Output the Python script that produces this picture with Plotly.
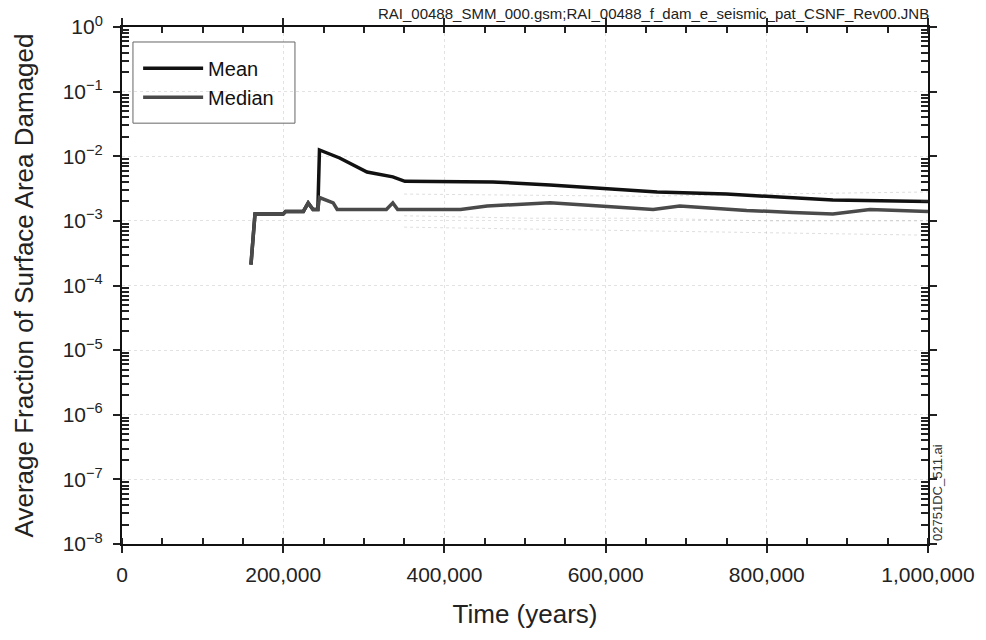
import plotly.graph_objects as go

# Mean curve (time in years, fraction damaged)
mean_t = [160000, 165000, 200000, 203000, 225000, 231000, 237000, 243000, 245000,
          270000, 304000, 336000, 351000, 460000, 531000, 600000, 664000, 750000,
          820000, 882000, 1000000]
mean_v = [2.1e-4, 1.28e-3, 1.28e-3, 1.4e-3, 1.4e-3, 1.9e-3, 1.5e-3, 1.5e-3, 1.25e-2,
          9.4e-3, 5.7e-3, 4.8e-3, 4.1e-3, 4.0e-3, 3.6e-3, 3.2e-3, 2.8e-3, 2.6e-3,
          2.35e-3, 2.1e-3, 2.0e-3]

# Median curve
med_t = [160000, 165000, 200000, 203000, 225000, 231000, 237000, 243000, 245000,
         262000, 267000, 328000, 336000, 342000, 420000, 453000, 531000, 602000,
         659000, 692000, 775000, 832000, 882000, 928000, 1000000]
med_v = [2.1e-4, 1.28e-3, 1.28e-3, 1.4e-3, 1.4e-3, 1.9e-3, 1.5e-3, 1.5e-3, 2.3e-3,
         1.9e-3, 1.5e-3, 1.5e-3, 1.9e-3, 1.5e-3, 1.5e-3, 1.7e-3, 1.9e-3, 1.65e-3,
         1.5e-3, 1.7e-3, 1.45e-3, 1.35e-3, 1.28e-3, 1.5e-3, 1.4e-3]

# Faint individual realizations (background band)
real_t = [350000, 500000, 650000, 800000, 1000000]
real_a = [2.6e-3, 2.5e-3, 2.4e-3, 2.6e-3, 2.8e-3]
real_b = [1.2e-3, 1.1e-3, 1.1e-3, 1.0e-3, 1.0e-3]
real_c = [8e-4, 7.5e-4, 7e-4, 6.5e-4, 6e-4]

y_exponents = [-8, -7, -6, -5, -4, -3, -2, -1, 0]
y_tickvals = [10.0 ** e for e in y_exponents]
y_ticktext = ["10<sup>%s</sup>" % (str(e).replace("-", "−")) for e in y_exponents]
y_minorvals = [m * 10.0 ** e for e in y_exponents[:-1] for m in range(2, 10)]
x_tickvals = [0, 200000, 400000, 600000, 800000, 1000000]
x_ticktext = ["0", "200,000", "400,000", "600,000", "800,000", "1,000,000"]

FONT = "Liberation Sans, Arial, sans-serif"
TXT = "#222222"

fig = go.Figure()
for rv in (real_a, real_b, real_c):
    fig.add_trace(go.Scatter(x=real_t, y=rv, mode="lines", showlegend=False,
                             line=dict(color="rgba(160,160,160,0.35)", width=1, dash="dot"),
                             hoverinfo="skip"))
fig.add_trace(go.Scatter(x=mean_t, y=mean_v, mode="lines", name="Mean",
                         line=dict(color="#111111", width=3.5)))
fig.add_trace(go.Scatter(x=med_t, y=med_v, mode="lines", name="Median",
                         line=dict(color="#4a4a4a", width=3.5)))

fig.update_layout(
    width=986, height=640,
    margin=dict(l=122, r=58, t=27, b=96),
    paper_bgcolor="white", plot_bgcolor="white",
    font=dict(family=FONT, color=TXT),
    showlegend=True,
    legend=dict(x=0.02, y=0.958, xanchor="left", yanchor="top",
                bgcolor="rgba(0,0,0,0)", borderwidth=0,
                font=dict(size=20, family=FONT, color="#111111"),
                itemwidth=60, tracegroupgap=0),
    xaxis=dict(range=[0, 1000000], tickvals=x_tickvals, ticktext=x_ticktext,
               showline=True, linecolor="#111111", linewidth=2, mirror="allticks",
               ticks="outside", ticklen=7, tickwidth=1.5, tickcolor="#222222",
               ticklabelstandoff=4,
               minor=dict(dtick=50000, ticks="inside", ticklen=6, tickwidth=1.5,
                          tickcolor="#222222", showgrid=False),
               showgrid=True, gridcolor="#e2e2e2", griddash="dot", gridwidth=1,
               zeroline=False,
               tickfont=dict(size=21, family=FONT, color=TXT),
               title=dict(text="Time (years)", font=dict(size=26, family=FONT, color=TXT),
                          standoff=20)),
    yaxis=dict(type="log", range=[-8, 0], tickvals=y_tickvals, ticktext=y_ticktext,
               showline=True, linecolor="#111111", linewidth=2, mirror="allticks",
               ticks="outside", ticklen=7, tickwidth=1.5, tickcolor="#222222",
               ticklabelstandoff=6,
               minor=dict(tickmode="array", tickvals=y_minorvals, ticks="inside",
                          ticklen=7, tickwidth=1.5, tickcolor="#222222", showgrid=False),
               showgrid=True, gridcolor="#e2e2e2", griddash="dot", gridwidth=1,
               zeroline=False,
               tickfont=dict(size=21, family=FONT, color=TXT),
               title=dict(text="Average Fraction of Surface Area Damaged",
                          font=dict(size=26, family=FONT, color=TXT), standoff=22)),
)

# legend frame
fig.add_shape(type="rect", xref="paper", yref="paper", x0=0.0136, x1=0.2146,
              y0=0.814, y1=0.971, line=dict(color="#666666", width=1),
              fillcolor="rgba(0,0,0,0)", layer="above")

fig.add_annotation(text="RAI_00488_SMM_000.gsm;RAI_00488_f_dam_e_seismic_pat_CSNF_Rev00.JNB",
                   xref="paper", yref="paper", x=1.0, y=1.0, xanchor="right", yanchor="bottom",
                   xshift=3, yshift=3, showarrow=False, font=dict(size=15, family=FONT, color=TXT))
fig.add_annotation(text="02751DC_511.ai", xref="paper", yref="paper", x=1.0, y=0.0,
                   xanchor="left", yanchor="bottom", xshift=0, yshift=1, textangle=-90,
                   showarrow=False, font=dict(size=13, family=FONT, color="#333333"))

fig.write_html("out.html")
